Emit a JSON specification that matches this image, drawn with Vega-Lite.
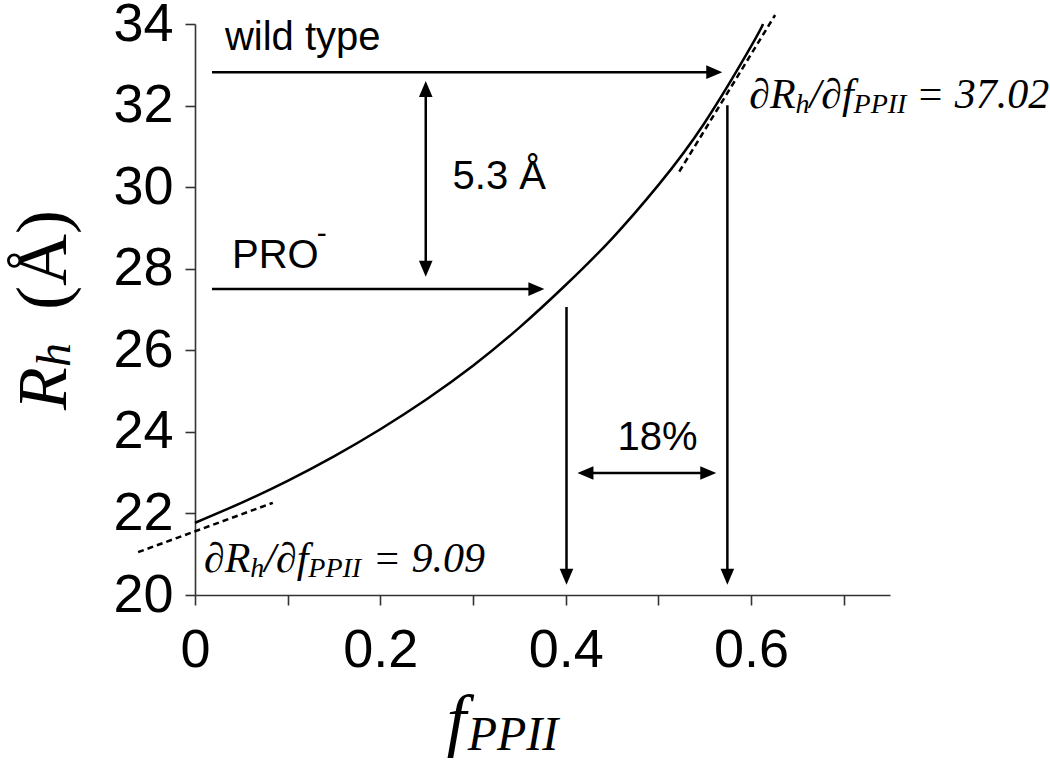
{
  "$schema": "https://vega.github.io/schema/vega-lite/v6.json",
  "width": 695,
  "height": 571,
  "autosize": {"type": "none"},
  "padding": {"left": 195, "top": 24, "right": 160, "bottom": 167},
  "background": "white",
  "config": {
    "view": {"stroke": null},
    "axis": {
      "grid": false,
      "domainColor": "#333",
      "domainWidth": 1.6,
      "tickColor": "#333",
      "tickWidth": 1.6,
      "tickSize": 10,
      "labelFont": "Liberation Sans",
      "labelFontSize": 54,
      "labelColor": "black"
    }
  },
  "datasets": {
    "curve": [
      {"f": 0.0, "r": 21.77},
      {"f": 0.05, "r": 22.26},
      {"f": 0.1, "r": 22.8},
      {"f": 0.15, "r": 23.4},
      {"f": 0.2, "r": 24.065},
      {"f": 0.25, "r": 24.8},
      {"f": 0.3, "r": 25.62},
      {"f": 0.35, "r": 26.555},
      {"f": 0.4, "r": 27.6},
      {"f": 0.45, "r": 28.74},
      {"f": 0.5, "r": 30.05},
      {"f": 0.55, "r": 31.58},
      {"f": 0.6, "r": 33.45},
      {"f": 0.613, "r": 34.0}
    ],
    "tangents": [
      {"x1": -0.0614, "y1": 21.05, "x2": 0.084, "y2": 22.26},
      {"x1": 0.5226, "y1": 30.38, "x2": 0.626, "y2": 34.22}
    ],
    "arrows": [
      {"x1": 0.0183, "y1": 32.82, "x2": 0.565, "y2": 32.82},
      {"x1": 0.0183, "y1": 27.5, "x2": 0.373, "y2": 27.5},
      {"x1": 0.249, "y1": 27.9, "x2": 0.249, "y2": 32.5},
      {"x1": 0.4009, "y1": 27.06, "x2": 0.4009, "y2": 20.35},
      {"x1": 0.5745, "y1": 32.01, "x2": 0.5745, "y2": 20.35},
      {"x1": 0.417, "y1": 22.99, "x2": 0.558, "y2": 22.99}
    ],
    "headsRight": [
      {"x": 0.569, "y": 32.82},
      {"x": 0.377, "y": 27.5},
      {"x": 0.5625, "y": 22.99}
    ],
    "headsLeft": [
      {"x": 0.4127, "y": 22.99}
    ],
    "headsUp": [
      {"x": 0.249, "y": 32.6}
    ],
    "headsDown": [
      {"x": 0.249, "y": 27.8},
      {"x": 0.4009, "y": 20.25},
      {"x": 0.5745, "y": 20.25}
    ],
    "labels": [
      {"x": 0.0323, "y": 33.36, "t": "wild type"},
      {"x": 0.0399, "y": 28.02, "t": "PRO"},
      {"x": 0.278, "y": 29.95, "t": "5.3 Å"},
      {"x": 0.456, "y": 23.55, "t": "18%"}
    ],
    "sup": [
      {"x": 0.1315, "y": 28.62, "t": "-"}
    ],
    "eqMain": [
      {"x": 0.5981, "y": 31.94, "t": "∂R"},
      {"x": 0.6631, "y": 31.94, "t": "/∂f"},
      {"x": 0.778, "y": 31.94, "t": "= 37.02"},
      {"x": 0.0097, "y": 20.564, "t": "∂R"},
      {"x": 0.0748, "y": 20.564, "t": "/∂f"},
      {"x": 0.1918, "y": 20.564, "t": "= 9.09"}
    ],
    "eqSub": [
      {"x": 0.6481, "y": 31.82, "t": "h"},
      {"x": 0.7107, "y": 31.82, "t": "PPII"},
      {"x": 0.0597, "y": 20.44, "t": "h"},
      {"x": 0.1223, "y": 20.44, "t": "PPII"}
    ],
    "xTitleMain": [
      {"x": 0.2716, "y": 16.372, "t": "f"}
    ],
    "xTitleSub": [
      {"x": 0.2942, "y": 16.2, "t": "PPII"}
    ],
    "yTitleR": [
      {"x": -0.139, "y": 24.535, "t": "R"}
    ],
    "yTitleSub": [
      {"x": -0.1347, "y": 25.59, "t": "h"}
    ],
    "yTitleUnit": [
      {"x": -0.139, "y": 26.99, "t": "(Å)"}
    ]
  },
  "layer": [
    {
      "data": {"name": "curve"},
      "mark": {"type": "line", "color": "black", "strokeWidth": 2.5, "interpolate": "natural"},
      "encoding": {
        "x": {
          "field": "f", "type": "quantitative", "title": null,
          "scale": {"domain": [0, 0.75], "nice": false, "zero": false},
          "axis": {
            "title": null,
            "values": [0, 0.1, 0.2, 0.3, 0.4, 0.5, 0.6, 0.7],
            "labelExpr": "datum.value == 0 ? '0' : (round(datum.value * 10) % 2 == 0 ? format(datum.value, '.1f') : '')",
            "labelPadding": 18,
            "labelFlush": false,
            "labelOverlap": false
          }
        },
        "y": {
          "field": "r", "type": "quantitative", "title": null,
          "scale": {"domain": [20, 34], "nice": false, "zero": false},
          "axis": {
            "title": null,
            "values": [20, 22, 24, 26, 28, 30, 32, 34],
            "labelPadding": 12,
            "labelOverlap": false,
            "labelFlush": false
          }
        }
      }
    },
    {
      "data": {"name": "tangents"},
      "mark": {"type": "rule", "color": "black", "strokeWidth": 2.5, "strokeDash": [6, 4]},
      "encoding": {
        "x": {"field": "x1", "type": "quantitative", "title": null},
        "y": {"field": "y1", "type": "quantitative", "title": null},
        "x2": {"field": "x2"},
        "y2": {"field": "y2"}
      }
    },
    {
      "data": {"name": "arrows"},
      "mark": {"type": "rule", "color": "black", "strokeWidth": 2.5},
      "encoding": {
        "x": {"field": "x1", "type": "quantitative", "title": null},
        "y": {"field": "y1", "type": "quantitative", "title": null},
        "x2": {"field": "x2"},
        "y2": {"field": "y2"}
      }
    },
    {
      "data": {"name": "headsRight"},
      "mark": {"type": "point", "shape": "M0,0 L-2,-0.85 L-2,0.85 Z", "size": 256, "filled": true, "color": "black", "opacity": 1, "strokeWidth": 0},
      "encoding": {
        "x": {"field": "x", "type": "quantitative", "title": null},
        "y": {"field": "y", "type": "quantitative", "title": null}
      }
    },
    {
      "data": {"name": "headsLeft"},
      "mark": {"type": "point", "shape": "M0,0 L2,-0.85 L2,0.85 Z", "size": 256, "filled": true, "color": "black", "opacity": 1, "strokeWidth": 0},
      "encoding": {
        "x": {"field": "x", "type": "quantitative", "title": null},
        "y": {"field": "y", "type": "quantitative", "title": null}
      }
    },
    {
      "data": {"name": "headsUp"},
      "mark": {"type": "point", "shape": "M0,0 L-0.85,2 L0.85,2 Z", "size": 256, "filled": true, "color": "black", "opacity": 1, "strokeWidth": 0},
      "encoding": {
        "x": {"field": "x", "type": "quantitative", "title": null},
        "y": {"field": "y", "type": "quantitative", "title": null}
      }
    },
    {
      "data": {"name": "headsDown"},
      "mark": {"type": "point", "shape": "M0,0 L-0.85,-2 L0.85,-2 Z", "size": 256, "filled": true, "color": "black", "opacity": 1, "strokeWidth": 0},
      "encoding": {
        "x": {"field": "x", "type": "quantitative", "title": null},
        "y": {"field": "y", "type": "quantitative", "title": null}
      }
    },
    {
      "data": {"name": "labels"},
      "mark": {"type": "text", "font": "Liberation Sans", "fontSize": 40, "align": "left", "baseline": "alphabetic", "color": "black"},
      "encoding": {
        "x": {"field": "x", "type": "quantitative", "title": null},
        "y": {"field": "y", "type": "quantitative", "title": null},
        "text": {"field": "t"}
      }
    },
    {
      "data": {"name": "sup"},
      "mark": {"type": "text", "font": "Liberation Sans", "fontSize": 30, "align": "left", "baseline": "alphabetic", "color": "black"},
      "encoding": {
        "x": {"field": "x", "type": "quantitative", "title": null},
        "y": {"field": "y", "type": "quantitative", "title": null},
        "text": {"field": "t"}
      }
    },
    {
      "data": {"name": "eqMain"},
      "mark": {"type": "text", "font": "Liberation Serif", "fontStyle": "italic", "fontSize": 42, "align": "left", "baseline": "alphabetic", "color": "black"},
      "encoding": {
        "x": {"field": "x", "type": "quantitative", "title": null},
        "y": {"field": "y", "type": "quantitative", "title": null},
        "text": {"field": "t"}
      }
    },
    {
      "data": {"name": "eqSub"},
      "mark": {"type": "text", "font": "Liberation Serif", "fontStyle": "italic", "fontSize": 28, "align": "left", "baseline": "alphabetic", "color": "black"},
      "encoding": {
        "x": {"field": "x", "type": "quantitative", "title": null},
        "y": {"field": "y", "type": "quantitative", "title": null},
        "text": {"field": "t"}
      }
    },
    {
      "data": {"name": "xTitleMain"},
      "mark": {"type": "text", "font": "Liberation Serif", "fontStyle": "italic", "fontSize": 70, "align": "left", "baseline": "alphabetic", "color": "black"},
      "encoding": {
        "x": {"field": "x", "type": "quantitative", "title": null},
        "y": {"field": "y", "type": "quantitative", "title": null},
        "text": {"field": "t"}
      }
    },
    {
      "data": {"name": "xTitleSub"},
      "mark": {"type": "text", "font": "Liberation Serif", "fontStyle": "italic", "fontSize": 48, "align": "left", "baseline": "alphabetic", "color": "black"},
      "encoding": {
        "x": {"field": "x", "type": "quantitative", "title": null},
        "y": {"field": "y", "type": "quantitative", "title": null},
        "text": {"field": "t"}
      }
    },
    {
      "data": {"name": "yTitleR"},
      "mark": {"type": "text", "font": "Liberation Serif", "fontStyle": "italic", "fontSize": 70, "angle": 270, "align": "left", "baseline": "alphabetic", "color": "black"},
      "encoding": {
        "x": {"field": "x", "type": "quantitative", "title": null},
        "y": {"field": "y", "type": "quantitative", "title": null},
        "text": {"field": "t"}
      }
    },
    {
      "data": {"name": "yTitleSub"},
      "mark": {"type": "text", "font": "Liberation Serif", "fontStyle": "italic", "fontSize": 48, "angle": 270, "align": "left", "baseline": "alphabetic", "color": "black"},
      "encoding": {
        "x": {"field": "x", "type": "quantitative", "title": null},
        "y": {"field": "y", "type": "quantitative", "title": null},
        "text": {"field": "t"}
      }
    },
    {
      "data": {"name": "yTitleUnit"},
      "mark": {"type": "text", "font": "Liberation Serif", "fontSize": 72, "angle": 270, "align": "left", "baseline": "alphabetic", "color": "black"},
      "encoding": {
        "x": {"field": "x", "type": "quantitative", "title": null},
        "y": {"field": "y", "type": "quantitative", "title": null},
        "text": {"field": "t"}
      }
    }
  ]
}
